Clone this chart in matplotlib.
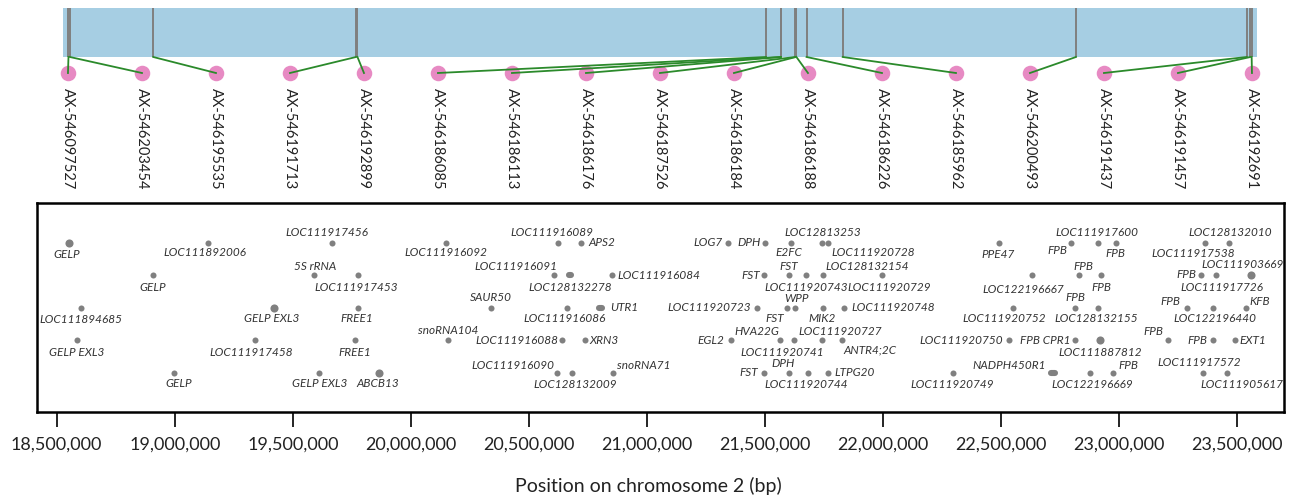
import numpy as np
import matplotlib
matplotlib.use("Agg")
import matplotlib.pyplot as plt
from matplotlib.patches import Rectangle
from matplotlib.ticker import FuncFormatter

plt.rcParams['font.family'] = ['Lato', 'DejaVu Sans']

# chromosome 2 interval covered by the SNP bar
region_start = 18527000
region_end = 23583000

# SNP markers (bp)
marker_names = ['AX-546097527', 'AX-546203454', 'AX-546195535', 'AX-546191713',
                'AX-546192899', 'AX-546186085', 'AX-546186113', 'AX-546186176',
                'AX-546187526', 'AX-546186184', 'AX-546186188', 'AX-546186226',
                'AX-546185962', 'AX-546200493', 'AX-546191437', 'AX-546191457',
                'AX-546192691']
marker_pos = [18550000, 18556000, 18909000, 19768000, 19774000, 21504000,
              21566000, 21568000, 21629000, 21631000, 21633000, 21676000,
              21829000, 22817000, 23540000, 23556000, 23561000]

# candidate genes: name, position (bp), track (5 = top row)
gene_names = [
    # track 5
    'GELP', 'LOC111892006', 'LOC111917456', 'LOC111916092', 'LOC111916089', 'APS2',
    'LOG7', 'DPH', 'E2FC', 'LOC12813253', 'LOC111920728', 'PPE47', 'FPB',
    'LOC111917600', 'FPB', 'LOC111917538', 'LOC128132010',
    # track 4
    'GELP', '5S rRNA', 'LOC111917453', 'LOC111916091', 'LOC128132278', 'LOC111916084',
    'FST', 'FST', 'LOC111920743', 'LOC128132154', 'LOC111920729', 'LOC122196667',
    'FPB', 'FPB', 'FPB', 'LOC111917726', 'LOC111903669',
    # track 3
    'LOC111894685', 'GELP EXL3', 'FREE1', 'SAUR50', 'LOC111916086', 'UTR1',
    'LOC111920723', 'FST', 'WPP', 'MIK2', 'LOC111920748', 'LOC111920752', 'FPB',
    'LOC128132155', 'FPB', 'LOC122196440', 'KFB',
    # track 2
    'GELP EXL3', 'LOC111917458', 'FREE1', 'snoRNA104', 'LOC111916088', 'XRN3',
    'EGL2', 'HVA22G', 'LOC111920741', 'LOC111920727', 'ANTR4;2C', 'LOC111920750',
    'FPB CPR1', 'LOC111887812', 'FPB', 'FPB', 'EXT1',
    # track 1
    'GELP', 'GELP EXL3', 'ABCB13', 'LOC111916090', 'LOC128132009', 'snoRNA71',
    'FST', 'DPH', 'LOC111920744', 'LTPG20', 'LOC111920749', 'NADPH450R1',
    'LOC122196669', 'FPB', 'LOC111917572', 'LOC111905617',
]
gene_pos = [
    18552000, 19139000, 19666000, 20147000, 20623000, 20722000,
    21342000, 21501000, 21610000, 21740000, 21768000, 22492000, 22796000,
    22909000, 22987000, 23363000, 23466000,
    18909000, 19590000, 19777000, 20607000, 20674000, 20852000,
    21495000, 21600000, 21673000, 21747000, 21994000, 22629000,
    22831000, 22923000, 23345000, 23410000, 23558000,
    18604000, 19420000, 19775000, 20338000, 20660000, 20805000,
    21465000, 21592000, 21627000, 21744000, 21835000, 22549000, 22813000,
    22911000, 23286000, 23398000, 23535000,
    18585000, 19341000, 19763000, 20158000, 20641000, 20737000,
    21354000, 21563000, 21622000, 21742000, 21826000, 22534000,
    22813000, 22918000, 23208000, 23398000, 23490000,
    18998000, 19612000, 19865000, 20620000, 20682000, 20855000,
    21497000, 21601000, 21680000, 21765000, 22295000, 22721000,
    22876000, 22972000, 23353000, 23455000,
]
gene_track = [5] * 17 + [4] * 17 + [3] * 17 + [2] * 17 + [1] * 16

# genes covering a longer stretch (bp)
gene_span = {'LOC128132278': 6000, 'UTR1': 12000, 'NADPH450R1': 17000}
big_dots = {0, 33, 35, 64, 70}

# label placement around each dot: (dx px, dy px, ha)
C, L, R = 'center', 'left', 'right'
label_place = [
    (-2, -12, C), (-3, -10, C), (-5, 10, C), (0, -10, C), (-6, 10, C), (7, 0, L),
    (-5, 0, R), (-4, 0, R), (-2, -10, C), (1, 10, C), (3, -10, L), (-1, -12, C), (-4, -8, R),
    (-1, 10, C), (-1, -11, C), (-12, -11, C), (1, 10, C),
    (0, -12, C), (1, 9, C), (-2, -12, C), (-38, 9, C), (0, -12, C), (5, 0, L),
    (-4, 0, R), (0, 9, C), (0, -12, C), (2, 9, L), (8, -12, C), (-8, -14, C),
    (4, 9, C), (0, -12, C), (-4, 1, R), (6, -12, C), (-8, 11, C),
    (0, -12, C), (-2, -11, C), (-1, -11, C), (0, 10, C), (-2, -11, C), (9, 0, L),
    (-6, 0, R), (-12, -11, C), (2, 9, C), (-1, -11, C), (7, 0, L), (-8, -11, C), (0, 10, C),
    (-2, -11, C), (-6, 6, R), (2, -11, C), (4, 6, L),
    (0, -12, C), (-4, -12, C), (0, -12, C), (0, 10, C), (-4, 0, R), (5, 0, L),
    (-6, 0, R), (-23, 9, C), (-12, -12, C), (18, 9, C), (28, -10, C), (-6, 0, R),
    (-5, 0, R), (0, -12, C), (-15, 9, C), (-6, 0, R), (5, 0, L),
    (4, -11, C), (0, -11, C), (-1, -11, C), (-3, 7, R), (3, -12, C), (4, 7, L),
    (-6, 0, R), (-6, 9, C), (-1, -12, C), (7, 0, L), (0, -12, C), (-7, 7, R),
    (2, -12, C), (6, 7, L), (-3, 10, C), (15, -12, C),
]

W, H = 1297, 499
xmin, xmax = 18418000, 23698000
fig = plt.figure(figsize=(W / 100, H / 100), dpi=100)
ax_l, ax_r = 37.3 / W, (1284 - 37.3) / W

# ---- SNP bar ----
ax_top = fig.add_axes([ax_l, (H - 203) / H, ax_r, 203 / H])
ax_top.set_xlim(xmin, xmax)
ax_top.set_ylim(-2.98, 1.163)
ax_top.axis('off')
ax_top.add_patch(Rectangle((region_start, 0), region_end - region_start, 1,
                           facecolor='#a6cee3', edgecolor='none'))
ax_top.vlines(marker_pos, 0, 1, color='#7f7f7f', lw=1.4, zorder=2)

slot_x = xmin + (xmax - xmin) * np.linspace(0.0246, 0.9743, len(marker_names))
circle_y = -0.327
ax_top.scatter(slot_x, [circle_y] * len(slot_x), s=125, color='#e78ac3', lw=0, zorder=3)
for mx, sx in zip(marker_pos, slot_x):
    ax_top.plot([mx, sx], [0, circle_y], color='#2b8a2b', lw=1.3, zorder=4)
for sx, name in zip(slot_x, marker_names):
    ax_top.text(sx, -0.64, name, rotation=270, ha='center', va='top',
                fontsize=10.5, color='#222222')

# ---- gene panel ----
ax = fig.add_axes([ax_l, (H - 411.7) / H, ax_r, 209 / H])
ax.set_xlim(xmin, xmax)
ax.set_ylim(-0.2, 6.23)
for s in ax.spines.values():
    s.set_linewidth(1.8)
ax.set_yticks([])
ax.set_xticks(np.arange(18500000, 23500001, 500000))
ax.xaxis.set_major_formatter(FuncFormatter(lambda v, p: f'{v:,.0f}'))
ax.tick_params(axis='x', length=11, width=1.2, pad=7, labelsize=13, labelcolor='#222222')
ax.set_xlabel('Position on chromosome 2 (bp)', fontsize=14, color='#222222')
ax.xaxis.set_label_coords(0.49, -0.31)

for i, (name, pos, trk) in enumerate(zip(gene_names, gene_pos, gene_track)):
    if name in gene_span:
        half = gene_span[name] / 2
        ax.plot([pos - half, pos + half], [trk, trk], color='#808080', lw=4.4,
                solid_capstyle='round', zorder=3)
    else:
        ax.scatter(pos, trk, s=34 if i in big_dots else 19, color='#808080', lw=0, zorder=3)
    dx, dy, ha = label_place[i]
    ax.annotate(name, (pos, trk), xytext=(dx, dy), textcoords='offset pixels',
                ha=ha, va='center', fontsize=8.5, style='italic', color='#333333')

fig.savefig('out.png', dpi=100)
